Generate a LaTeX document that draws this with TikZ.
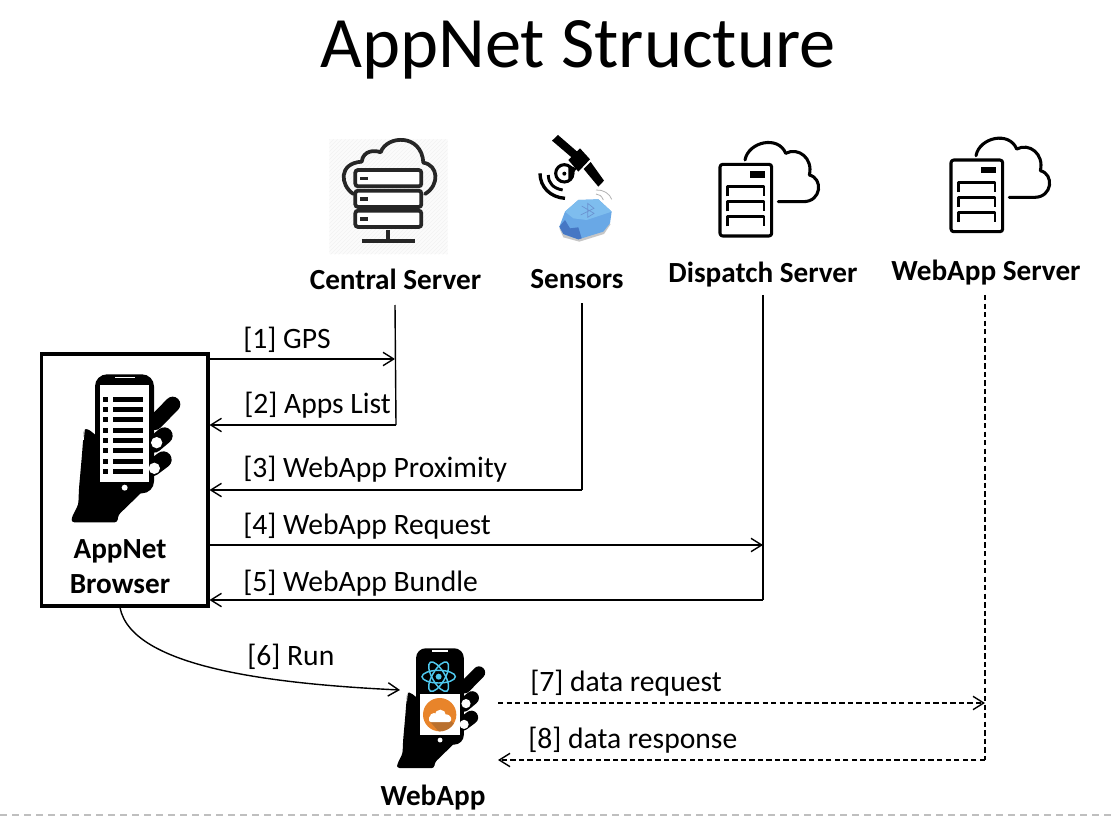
\documentclass[tikz,border=0pt]{standalone}
\usepackage{fontspec}
\setmainfont{Carlito}
\usetikzlibrary{arrows.meta}
\definecolor{atom}{HTML}{4FC8EE}
\definecolor{orangeA}{HTML}{E8842A}
\definecolor{orangeB}{HTML}{B9702E}
\definecolor{blueA}{HTML}{69A8E6}
\definecolor{blueB}{HTML}{7EBDEE}
\definecolor{blueC}{HTML}{4677C4}
\tikzset{
  px/.style={x=0.75pt,y=-0.75pt},
  flow/.style={line width=1.05pt,-{Straight Barb[length=8pt,width=10pt,line width=1.05pt]}},
  plain/.style={line width=1.05pt},
  dashflow/.style={flow,dash pattern=on 4pt off 2.4pt},
  dashplain/.style={plain,dash pattern=on 4pt off 2.4pt},
  lab/.style={anchor=base west,inner sep=0pt,font=\fontsize{22.2}{26}\selectfont},
  head/.style={anchor=base,inner sep=0pt,font=\fontsize{21.9}{26}\selectfont\bfseries},
  srv/.style={line width=2.3pt,line join=round},
}
% #1 x, #2 y of the icon origin in px, #3 scale; coordinates are in 1/3 px of the reference zoom
\newcommand{\handicon}[3]{%
  \begin{scope}[shift={(#1,#2)},x=#3*0.25pt,y=-#3*0.25pt]
    \fill[rounded corners=2pt] (162,252) -- (174,252) -- (197,270) -- (372,400) -- (330,447) -- (265,510) -- (262,532) -- (125,532) -- (125,518) -- (145,478) -- (147,430) -- (155,340) -- cycle;
    \draw[line width=#3*11.5pt,line cap=round] (375,232) -- (428,178);
    \draw[line width=#3*12.5pt,line cap=round] (372,298) -- (403,272);
    \draw[line width=#3*12.5pt,line cap=round] (368,368) -- (400,344);
    \fill[rounded corners=#3*9pt] (195,88) rectangle (372,445);
    \fill[white] (380,293) circle[radius=17];
    \fill[white] (373,370) circle[radius=17];
    \fill[white] (284,428) circle[radius=9];
    \draw[white,line width=#3*1.1pt] (255,98) -- (315,98);
    \draw[white,line width=#3*0.6pt] (163,255) -- (160,285);
  \end{scope}}
\begin{document}
\begin{tikzpicture}[px]
\useasboundingbox (0,0) rectangle (1112,816);
\fill[white] (0,0) rectangle (1112,816);
\draw[black!25,line width=1pt,dash pattern=on 5pt off 4pt] (0,815) -- (1112,815);

\node[anchor=base,inner sep=0pt,font=\fontsize{54.3}{64}\selectfont] (title) at (578,68) {AppNet Structure};

% central server icon
\begin{scope}[shift={(320,120)},x=0.25pt,y=-0.25pt]
  \begin{scope}
    \clip (28,58) rectangle (383,403);
    \fill[black!1.5] (28,58) rectangle (383,403);
    \foreach \hh in {0,12,...,720}{
      \draw[black!5,line width=0.4pt] (\hh-340,403) -- (\hh+5,58);
    }
  \end{scope}
  \draw[black!85,line width=2.8pt,line cap=round,line join=round]
    (100,222) .. controls (60,195) and (55,130) .. (125,125)
    .. controls (130,90) and (165,90) .. (182,97)
    .. controls (200,45) and (305,40) .. (310,128)
    .. controls (355,135) and (360,195) .. (315,222);
  \foreach \yy in {150,212,272}{
    \draw[black!85,fill=white,line width=2.8pt,rounded corners=2pt] (106,\yy) rectangle (304,\yy+49);
    \fill[black!85] (120,\yy+20) rectangle (143,\yy+30);
  }
  \draw[black!85,line width=2.8pt] (205,330) -- (205,362);
  \draw[black!85,line width=3pt] (127,363) -- (285,363);
\end{scope}

% sensors icon
\begin{scope}[shift={(320,120)},x=0.25pt,y=-0.25pt]
  \fill (696,62) -- (714,45) -- (774,97) -- (757,114) -- cycle;
  \fill (745,120) -- (780,85) -- (810,118) -- (775,155) -- cycle;
  \fill (791,147) -- (812,126) -- (852,182) -- (835,200) -- cycle;
  \draw[line width=2.3pt] (733,160) circle[radius=26];
  \fill (733,161) circle[radius=6];
  \fill (745,135) -- (770,145) -- (745,185) -- cycle;
  \draw[line width=2.2pt] (685,165) .. controls (685,190) and (700,205) .. (728,210);
  \draw[line width=2.5pt] (660,160) .. controls (660,200) and (690,232) .. (735,235);
  \fill[black!22] (718,325) -- (730,352) -- (778,365) -- (852,342) -- (872,312) -- cycle;
  \fill[blueA] (718,320) -- (735,275) -- (775,240) -- (835,238) -- (875,275) -- (870,310) -- (850,335) -- (775,358) -- (730,342) -- cycle;
  \fill[blueB] (735,275) -- (775,240) -- (835,238) -- (875,275) -- (800,300) -- (760,295) -- cycle;
  \fill[blueC] (718,320) -- (735,300) -- (750,325) -- (775,322) -- (785,355) -- (775,358) -- (730,342) -- cycle;
  \draw[blueC!80,line width=0.5pt] (785,258) -- (822,280) -- (803,292) -- (803,250) -- (822,265) -- (782,285);
  \draw[black!30,line width=0.6pt] (828,222) .. controls (838,222) and (845,228) .. (850,240);
  \draw[black!30,line width=0.6pt] (828,210) .. controls (850,208) and (870,222) .. (875,238);
\end{scope}

% server + cloud icons
\foreach \dx/\dy in {690/120,921/115.7}{
\begin{scope}[shift={(\dx,\dy)},x=0.25pt,y=-0.25pt]
  \draw[srv,rounded corners=2pt] (90,133) rectangle (245,348);
  \fill (180,153) rectangle (225,173);
  \foreach \yy in {200,245,290}{
    \draw[srv,line width=2pt] (113,\yy+29) -- (113,\yy) -- (222,\yy) -- (222,\yy+29);
  }
  \draw[srv,line cap=round] (165,120) .. controls (175,65) and (265,45) .. (287,100)
    .. controls (325,80) and (370,115) .. (358,165)
    .. controls (400,175) and (395,245) .. (340,245) -- (265,245);
\end{scope}}

% browser box and icon
\node[draw,line width=2.5pt,minimum width=125pt,minimum height=189pt,inner sep=0pt] (browser) at (124.5,480) {};
\handicon{30}{345}{1}
\begin{scope}[shift={(30,345)},x=0.25pt,y=-0.25pt]
  \fill[white] (210,120) rectangle (358,412);
  \foreach \yy in {156,187,217,248,279,310,341,372}{
    \fill (218,\yy) rectangle (234,\yy+15);
    \fill (249,\yy) rectangle (340,\yy+15);
  }
\end{scope}
\node[head] (appnet) at (120,558) {AppNet};
\node[head] (browsertxt) at (120,593) {Browser};

% webapp icon
\node[inner sep=0pt,minimum width=57pt,minimum height=92pt] (webapp) at (445,709) {};
\handicon{363.4}{624.5}{0.81}
\begin{scope}[shift={(370,640)},x=0.25pt,y=-0.25pt]
  \fill[white] (150,163) rectangle (270,285);
  \fill[orangeA] (209,224) circle[radius=50];
  \begin{scope}
    \clip (209,224) circle[radius=50];
    \fill[orangeB] (180,245) -- (240,240) -- (270,270) -- (220,290) -- cycle;
  \end{scope}
  \fill[white,rounded corners=1.5pt] (177,246) rectangle (243,228);
  \fill[white] (192,232) circle[radius=13];
  \fill[white] (211,226) circle[radius=17];
  \fill[white] (230,234) circle[radius=11];
  \fill[atom] (206,110) circle[radius=9];
  \foreach \rr in {0,60,120}{
    \draw[atom,line width=1.1pt,rotate around={\rr:(206,110)}] (206,110) ellipse[x radius=50,y radius=19];
  }
\end{scope}
\node[head] (webapptxt) at (433,805) {WebApp};

% column headings
\node[head] (central) at (395.5,290) {Central Server};
\node[head] (sensors) at (577,289) {Sensors};
\node[head] (dispatch) at (763,282) {Dispatch Server};
\node[head] (webserver) at (986,281) {WebApp Server};

% connector corner points
\coordinate (c1) at (395,359);
\coordinate (c2) at (396,425);
\coordinate (c3) at (582,490);
\coordinate (c4) at (763,545);
\coordinate (c5) at (763,600);
\coordinate (c6) at (400,690);
\coordinate (c7) at (985,703);
\coordinate (c8) at (985,760);
\coordinate (top1) at (395,305);
\coordinate (top3) at (582,303);
\coordinate (top4) at (763,295);
\coordinate (top7) at (985,295);
\coordinate (w7) at (498,703);
\coordinate (w8) at (498,760);

\draw[plain] (top1) -- (c2);
\draw[plain] (top3) -- (c3);
\draw[plain] (top4) -- (c5);
\draw[dashplain] (top7) -- (c8);
\draw[flow] (browser.east |- c1) -- (c1);
\draw[flow] (c2) -- (browser.east |- c2);
\draw[flow] (c3) -- (browser.east |- c3);
\draw[flow] (browser.east |- c4) -- (c4);
\draw[flow] (c5) -- (browser.east |- c5);
\draw[flow] (browser.south) ++(-4.5,0) coordinate (b6) .. controls (132,668) and (275,684) .. (c6);
\draw[dashflow] (w7) -- (c7);
\draw[dashflow] (c8) -- (w8);

% labels
\node[lab] (l1) at (243,348) {[1] GPS};
\node[lab] (l2) at (244,413) {[2] Apps List};
\node[lab] (l3) at (243,477) {[3] WebApp Proximity};
\node[lab] (l4) at (243,534) {[4] WebApp Request};
\node[lab] (l5) at (243,591) {[5] WebApp Bundle};
\node[lab] (l6) at (247,665) {[6] Run};
\node[lab] (l7) at (530,691) {[7] data request};
\node[lab] (l8) at (528,748) {[8] data response};
\end{tikzpicture}
\end{document}
